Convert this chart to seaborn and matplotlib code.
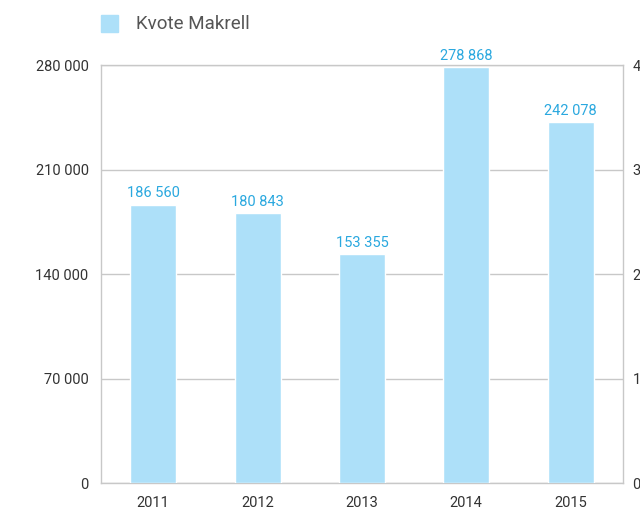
import matplotlib
matplotlib.use('Agg')
import matplotlib.pyplot as plt
from matplotlib.ticker import FuncFormatter
import seaborn as sns
import pandas as pd

# data
years = ['2011', '2012', '2013', '2014', '2015']
kvote = [186560, 180843, 153355, 278868, 242078]
left_ticks = [0, 70000, 140000, 210000, 280000]
right_ticks = [0, 1, 2, 3, 4]

bar_color = '#ADE0F9'
label_color = '#2AA8DF'
grid_color = '#C8C8C8'
text_color = '#333333'

sns.set_theme(style='white')
plt.rcParams['font.family'] = ['Roboto', 'DejaVu Sans']

df = pd.DataFrame({'year': years, 'kvote': kvote})

fig = plt.figure(figsize=(6.4, 5.09), dpi=100)
ax = fig.add_axes([0.158, 0.051, 0.815, 0.821])

sns.barplot(data=df, x='year', y='kvote', color=bar_color, width=0.44,
            saturation=1, ax=ax, zorder=3)

ax.set_ylim(0, 280000)
ax.set_xlim(-0.5, len(years) - 0.5)
ax.set_yticks(left_ticks)
ax.yaxis.set_major_formatter(FuncFormatter(lambda v, p: f'{int(v):,}'.replace(',', ' ')))
ax.grid(axis='y', color=grid_color, linewidth=1, zorder=0)
ax.set_axisbelow(True)
ax.set_xlabel('')
ax.set_ylabel('')
ax.tick_params(axis='y', length=0, pad=9, labelsize=10.5, labelcolor=text_color)
ax.tick_params(axis='x', length=0, pad=9, labelsize=10.5, labelcolor=text_color)

# small separators between the years on the bottom spine
ax.set_xticks([i + 0.5 for i in range(len(years) - 1)], minor=True)
ax.tick_params(axis='x', which='minor', direction='in', length=10, color=grid_color, width=1)

for s in ax.spines.values():
    s.set_color(grid_color)
    s.set_linewidth(1)

# value labels on top of the bars
for i, v in enumerate(kvote):
    ax.annotate(f'{v:,}'.replace(',', ' '), (i, v), xytext=(0, 3),
                textcoords='offset points', ha='center', va='bottom',
                color=label_color, fontsize=10.5)

# right axis (cut off at the edge of the picture)
ax2 = ax.twinx()
ax2.set_ylim(0, 4)
ax2.set_yticks(right_ticks)
ax2.tick_params(axis='y', length=0, pad=7, labelsize=10.5, labelcolor=text_color)
ax2.grid(False)
for s in ax2.spines.values():
    s.set_visible(False)

# legend
fig.patches.append(plt.Rectangle((101 / 640, 1 - 32 / 509), 17 / 640, 17 / 509,
                                 transform=fig.transFigure, color=bar_color))
fig.text(136 / 640, 1 - 24 / 509, 'Kvote Makrell', ha='left', va='center',
         fontsize=13.5, color='#555555')

fig.savefig('out.png', dpi=100)
